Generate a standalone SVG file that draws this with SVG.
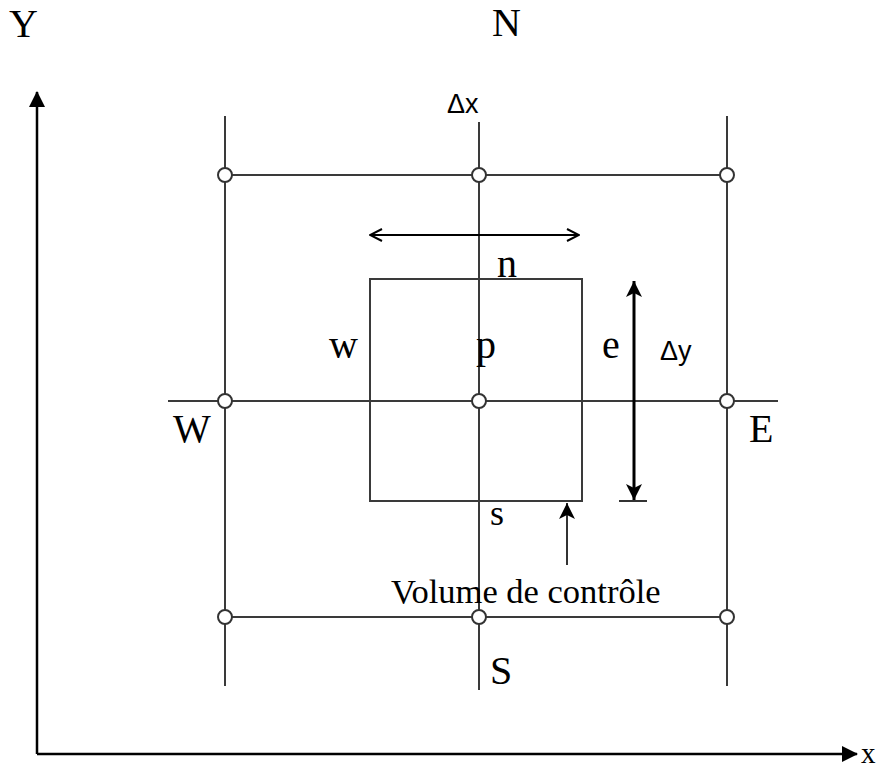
<svg xmlns="http://www.w3.org/2000/svg" width="880" height="769" viewBox="0 0 880 769">
<style>
.g{stroke:#3a3a3a;stroke-width:2;fill:none}
.nd{fill:#fff;stroke:#333;stroke-width:2}
.t{font-family:"Liberation Serif",serif;fill:#000}
.s{font-family:"Liberation Sans",sans-serif;fill:#000}
</style>
<defs>
<marker id="fa" viewBox="0 0 16 16" refX="15" refY="8" markerWidth="16" markerHeight="16" markerUnits="userSpaceOnUse" orient="auto-start-reverse"><path d="M0,0 L16,8 L0,16 Z" fill="#000"/></marker>
<marker id="oa" viewBox="0 0 14 14" refX="13" refY="7" markerWidth="14" markerHeight="14" markerUnits="userSpaceOnUse" orient="auto-start-reverse"><path d="M1,1 L13,7 L1,13" fill="none" stroke="#000" stroke-width="2"/></marker>
<marker id="na" viewBox="0 0 16 20" refX="16" refY="8" markerWidth="16" markerHeight="20" markerUnits="userSpaceOnUse" orient="auto-start-reverse"><path d="M0,0 L16,8 L0,16 L4,8 Z" fill="#000"/></marker>
</defs>
<g id="connectors">
<line x1="37" y1="754" x2="37" y2="92" stroke="#000" stroke-width="2.5" marker-end="url(#fa)"/>
<line x1="37" y1="754" x2="857" y2="754" stroke="#000" stroke-width="2.5" marker-end="url(#fa)"/>
<line class="g" x1="225" y1="116" x2="225" y2="686"/>
<line class="g" x1="479" y1="122" x2="479" y2="690"/>
<line class="g" x1="727" y1="116" x2="727" y2="686"/>
<line class="g" x1="225" y1="175" x2="727" y2="175"/>
<line class="g" x1="168" y1="401" x2="778" y2="401"/>
<line class="g" x1="225" y1="617" x2="727" y2="617"/>
<rect class="g" x="370" y="279" width="212" height="222"/>
<line x1="370" y1="235" x2="579" y2="235" stroke="#000" stroke-width="2" marker-start="url(#oa)" marker-end="url(#oa)"/>
<line x1="634" y1="281" x2="634" y2="500" stroke="#000" stroke-width="3" marker-start="url(#na)" marker-end="url(#na)"/>
<line x1="619" y1="501" x2="647" y2="501" stroke="#333" stroke-width="2"/>
<line x1="567" y1="565" x2="567" y2="503" stroke="#333" stroke-width="2" marker-end="url(#na)"/>
</g>
<g id="node-NW"><circle class="nd" cx="225" cy="175" r="7"/></g>
<g id="node-N"><circle class="nd" cx="479" cy="175" r="7"/></g>
<g id="node-NE"><circle class="nd" cx="727" cy="175" r="7"/></g>
<g id="node-W"><circle class="nd" cx="225" cy="401" r="7"/></g>
<g id="node-P"><circle class="nd" cx="479" cy="401" r="7"/></g>
<g id="node-E"><circle class="nd" cx="727" cy="401" r="7"/></g>
<g id="node-SW"><circle class="nd" cx="225" cy="617" r="7"/></g>
<g id="node-S"><circle class="nd" cx="479" cy="617" r="7"/></g>
<g id="node-SE"><circle class="nd" cx="727" cy="617" r="7"/></g>
<g id="labels">
<text class="t" x="9" y="37" font-size="40">Y</text>
<text class="t" x="492" y="36" font-size="40">N</text>
<text class="s" x="447" y="113" font-size="27">Δx</text>
<text class="t" x="497" y="277" font-size="40">n</text>
<text class="t" x="329" y="358" font-size="40">w</text>
<text class="t" x="476" y="358" font-size="40">p</text>
<text class="t" x="602" y="358" font-size="40">e</text>
<text class="s" x="660" y="360" font-size="27">Δy</text>
<text class="t" x="173" y="442" font-size="40">W</text>
<text class="t" x="749" y="442" font-size="40">E</text>
<text class="t" x="490" y="525" font-size="36">s</text>
<text class="t" x="391" y="603" font-size="34.5">Volume de contrôle</text>
<text class="t" x="490" y="684" font-size="40">S</text>
<text class="t" x="861" y="763" font-size="29">x</text>
</g>
</svg>
